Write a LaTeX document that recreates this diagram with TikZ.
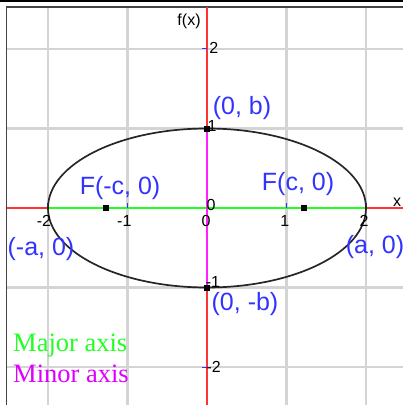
\documentclass[tikz,border=0pt]{standalone}
\usepackage{fontspec}
\setmainfont{Liberation Serif}
\setsansfont{Liberation Sans}
\usetikzlibrary{positioning}
\definecolor{ptblue}{HTML}{3333FF}
\definecolor{axred}{HTML}{FF3333}
\definecolor{majgreen}{HTML}{22FF22}
\definecolor{minmag}{HTML}{FF22FF}
\definecolor{legmag}{HTML}{DD00FF}
\definecolor{gridgray}{HTML}{D4D4D4}
\definecolor{framegray}{HTML}{444444}
\tikzset{
  % griglia e cornice
  gridline/.style={draw=gridgray, line width=2.5pt},
  frameline/.style={draw=framegray, line width=1.5pt},
  % assi del grafico
  axisline/.style={line width=2pt},
  tickmark/.style={draw=ptblue, line width=1pt},
  ticklbl/.style={font=\fontsize{16}{18}\selectfont\sffamily, inner sep=0pt},
  % ellisse e punti notevoli
  curve/.style={draw=black!85, line width=1.7pt},
  ptmark/.style={fill=black, minimum size=6pt, inner sep=0pt},
  ptlbl/.style={text=ptblue, font=\fontsize{25}{28}\selectfont\sffamily, inner sep=0pt},
  % legenda
  leglbl/.style={font=\fontsize{26.5}{28}\selectfont\rmfamily, inner sep=0pt, anchor=base west},
}

\begin{document}
\begin{tikzpicture}[x=79.5pt, y=79.5pt]
  \useasboundingbox (-2.6038,-2.478) rectangle (2.4654,2.6164);
  \coordinate (W) at (-2.522,0);
  \coordinate (E) at (2.4654,0);
  \coordinate (N) at (0,2.528);
  \coordinate (S) at (0,-2.478);
  \coordinate (va) at (-2,0);
  \coordinate (vb) at (2,0);
  \coordinate (cb) at (0,1);
  \coordinate (cd) at (0,-1);
  % griglia
  \draw[gridline, step=1] (-2.522,-2.478) grid (2.4654,2.528);
  \fill[black] (-2.6038,2.591) rectangle (2.4654,2.6164);
  \draw[frameline] (-2.522,-2.478) -- (-2.522,2.528) -- (2.4654,2.528);
  % assi
  \draw[axisline, axred] (W) -- (va);
  \draw[axisline, axred] (vb) -- (E);
  \draw[axisline, majgreen] (va) -- (vb);
  \draw[axisline, axred] (N) -- (cb);
  \draw[axisline, axred] (cd) -- (S);
  \draw[axisline, minmag] (cb) -- (cd);
  \foreach \t in {-2,-1,1,2} {
    \draw[tickmark] (\t,0) -- ++(0,0.06);
    \draw[tickmark] (0,\t) -- ++(-0.06,0);
  }
  \draw[curve] (0,0) ellipse [x radius=2, y radius=1];
  % etichette degli assi
  \node[ticklbl] (fx) at (-0.226,2.352) {f(x)};
  \node[ticklbl] (xl) at (2.39,0.075) {x};
  \foreach \t/\x in {-2/-2.05, -1/-1.04, 0/-0.013, 1/0.98, 2/1.975}
    \node[ticklbl] (tx\t) at (\x,-0.165) {\t};
  \node[ticklbl] (tyo) at (0.05,0.038) {0};
  \node[ticklbl] (ty2) at (0.085,2.013) {2};
  \node[ticklbl] (ty1) at (0.063,1.035) {1};
  \node[ticklbl] (tym1) at (0.075,-0.93) {-1};
  \node[ticklbl] (tym2) at (0.085,-2.0) {-2};
  % punti notevoli
  \node[ptmark] (F1) at (-1.27,0) {};
  \node[ptmark] (F2) at (1.22,0) {};
  \node[ptmark] (B1) at (cb) {};
  \node[ptmark] (B2) at (cd) {};
  \node[ptlbl] (lb1) at (0.44,1.26) {(0, b)};
  \node[ptlbl] (lb2) at (0.478,-1.208) {(0, -b)};
  \node[ptlbl] (lf1) at (-1.094,0.252) {F(-c, 0)};
  \node[ptlbl] (lf2) at (1.145,0.302) {F(c, 0)};
  \node[ptlbl] (la1) at (-2.088,-0.516) {(-a, 0)};
  \node[ptlbl] (la2) at (2.113,-0.49) {(a, 0)};
  % legenda
  \node[leglbl, text=majgreen] (major) at (-2.44,-1.811) {Major axis};
  \node[leglbl, text=legmag] (minor) at (-2.44,-2.2) {Minor axis};
\end{tikzpicture}
\end{document}
